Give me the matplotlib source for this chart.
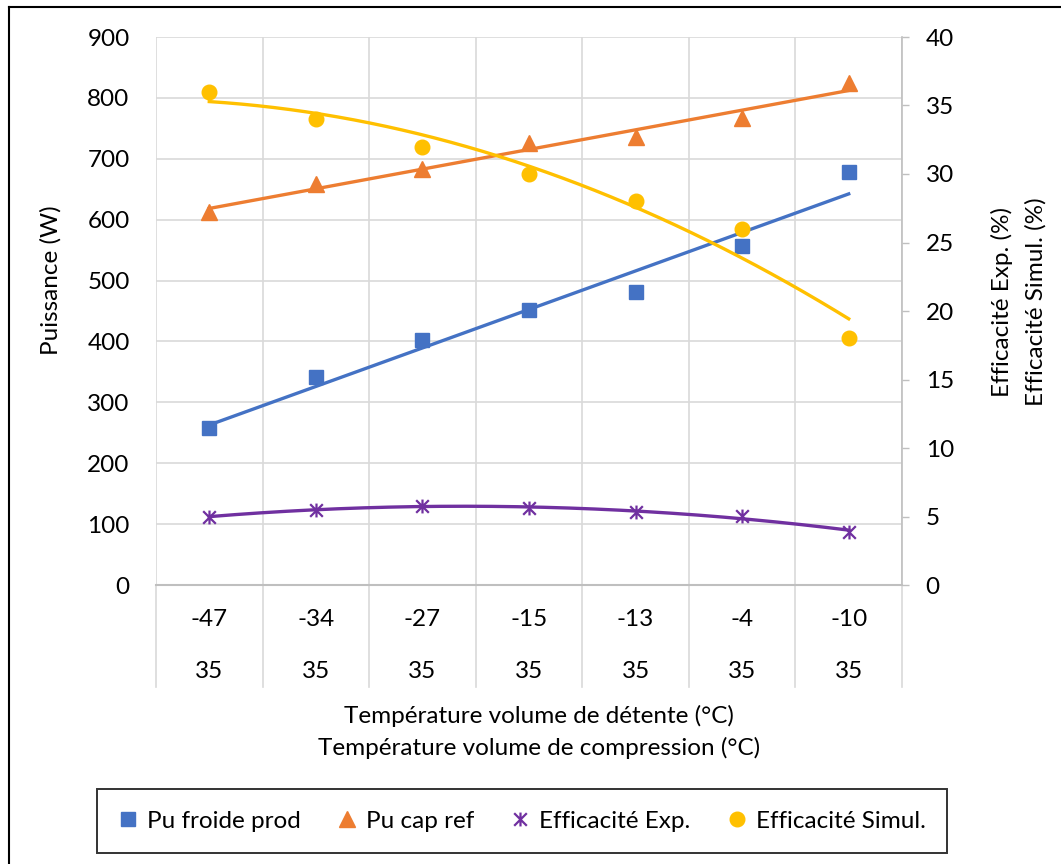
import numpy as np
import matplotlib
matplotlib.use("Agg")
import matplotlib.pyplot as plt
from matplotlib.path import Path
from matplotlib.lines import Line2D
import matplotlib.transforms as mtransforms

plt.rcParams['font.family'] = ['Lato', 'DejaVu Sans']

# ---------------- data ----------------
t_detente = ['-47', '-34', '-27', '-15', '-13', '-4', '-10']
t_compression = ['35', '35', '35', '35', '35', '35', '35']
pu_froide_prod = [258, 341, 402, 451, 481, 557, 678]      # W (left axis)
pu_cap_ref = [613, 658, 683, 726, 736, 767, 824]          # W (left axis)
eff_exp = [5.0, 5.5, 5.75, 5.6, 5.35, 5.05, 3.9]          # % (right axis)
eff_simul = [36, 34, 32, 30, 28, 26, 18]                  # % (right axis)

W, H = 1061, 864
FS = 17.5
C_BLUE = '#4472C4'
C_ORANGE = '#ED7D31'
C_PURPLE = '#7030A0'
C_YELLOW = '#FFC000'
C_GRID = '#D9D9D9'
C_AXIS = '#BFBFBF'

fig = plt.figure(figsize=(W / 100, H / 100), dpi=100)
left, right, top, bottom = 156, 902, 37, 585
ax = fig.add_axes([left / W, 1 - bottom / H, (right - left) / W, (bottom - top) / H])
ax2 = ax.twinx()

n = len(t_detente)
x = np.arange(1, n + 1)
xs = np.linspace(1, n, 200)

# star marker (x + vertical bar)
star = Path([(-1, -1), (1, 1), (-1, 1), (1, -1), (0, -1.1), (0, 1.1)],
            [Path.MOVETO, Path.LINETO, Path.MOVETO, Path.LINETO, Path.MOVETO, Path.LINETO])

# series markers
ax.plot(x, pu_froide_prod, ls='none', marker='s', ms=10, color=C_BLUE, zorder=3)
ax.plot(x, pu_cap_ref, ls='none', marker='^', ms=11, color=C_ORANGE, zorder=3)
ax2.plot(x, eff_exp, ls='none', marker=star, ms=10, mew=1.6, color=C_PURPLE, mfc='none', zorder=3)
ax2.plot(x, eff_simul, ls='none', marker='o', ms=10.5, color=C_YELLOW, zorder=3)

# trendlines (fits of the data, as in the original spreadsheet)
ax.plot(xs, np.polyval(np.polyfit(x, pu_froide_prod, 1), xs), color=C_BLUE, lw=2.4, zorder=4)
ax.plot(xs, np.polyval(np.polyfit(x, pu_cap_ref, 1), xs), color=C_ORANGE, lw=2.4, zorder=4)
ax2.plot(xs, np.polyval(np.polyfit(x, eff_exp, 2), xs), color=C_PURPLE, lw=2.4, zorder=4)
ax2.plot(xs, np.polyval(np.polyfit(x, eff_simul, 2), xs), color=C_YELLOW, lw=2.4, zorder=4)

# axes limits / ticks
ax.set_xlim(0.5, n + 0.5)
ax.set_ylim(0, 900)
ax.set_yticks(np.arange(0, 901, 100))
ax2.set_ylim(0, 40)
ax2.set_yticks(np.arange(0, 41, 5))

ax.set_xticks(np.arange(0.5, n + 1, 1))
ax.set_xticklabels([])
ax.tick_params(axis='x', length=0)
ax.tick_params(axis='y', length=0, pad=19, labelsize=FS, labelcolor='black')
ax2.tick_params(axis='y', length=5, width=1, color=C_AXIS, pad=12, labelsize=FS, labelcolor='black')

ax.grid(True, color=C_GRID, lw=1.2)
ax.set_axisbelow(True)
for s in ['top', 'left', 'right']:
    ax.spines[s].set_visible(False)
ax.spines['bottom'].set_color(C_AXIS)
ax.spines['bottom'].set_linewidth(1.5)
for s in ['top', 'left', 'bottom']:
    ax2.spines[s].set_visible(False)
ax2.spines['right'].set_color(C_AXIS)
ax2.spines['right'].set_linewidth(1.2)

# multi-level category axis
trans = mtransforms.blended_transform_factory(ax.transData, ax.transAxes)
ph = bottom - top
for b in np.arange(0.5, n + 1, 1):
    ax.add_line(Line2D([b, b], [0, -(687 - bottom) / ph], transform=trans,
                       color=C_GRID, lw=1.2, clip_on=False))
for xi, a, c in zip(x, t_detente, t_compression):
    ax.text(xi, -(620 - bottom) / ph, a, transform=trans, ha='center', va='center', fontsize=FS)
    ax.text(xi, -(672 - bottom) / ph, c, transform=trans, ha='center', va='center', fontsize=FS)

# axis titles
fig.text(539 / W, 1 - 716 / H, 'Température volume de détente (°C)', ha='center', va='center', fontsize=FS)
fig.text(539 / W, 1 - 748 / H, 'Température volume de compression (°C)', ha='center', va='center', fontsize=FS)
fig.text(51 / W, 1 - 280 / H, 'Puissance (W)', rotation=90, ha='center', va='center', fontsize=FS)
fig.text(1002 / W, 1 - 302 / H, 'Efficacité Exp. (%)', rotation=90, ha='center', va='center', fontsize=FS)
fig.text(1036 / W, 1 - 302 / H, 'Efficacité Simul. (%)', rotation=90, ha='center', va='center', fontsize=FS)

# legend
handles = [
    Line2D([], [], ls='none', marker='s', ms=10, color=C_BLUE),
    Line2D([], [], ls='none', marker='^', ms=11, color=C_ORANGE),
    Line2D([], [], ls='none', marker=star, ms=10, mew=1.6, color=C_PURPLE),
    Line2D([], [], ls='none', marker='o', ms=10.5, color=C_YELLOW),
]
labels = ['Pu froide prod', 'Pu cap ref', 'Efficacité Exp.', 'Efficacité Simul.']
leg = fig.legend(handles, labels, loc='center', bbox_to_anchor=(522 / W, 1 - 821 / H),
                 ncol=4, fontsize=FS, frameon=True, fancybox=False, edgecolor='black',
                 handlelength=0.8, handletextpad=0.38, columnspacing=1.5,
                 borderpad=0.9, borderaxespad=0)
leg.get_frame().set_linewidth(1.4)

# chart-area border (left and top visible in the crop)
fig.add_artist(Line2D([9 / W, 9 / W], [0, 1 - 7 / H], transform=fig.transFigure, color='black', lw=1.5))
fig.add_artist(Line2D([9 / W, 1], [1 - 7 / H, 1 - 7 / H], transform=fig.transFigure, color='black', lw=1.5))

fig.savefig('out.png', dpi=100)
